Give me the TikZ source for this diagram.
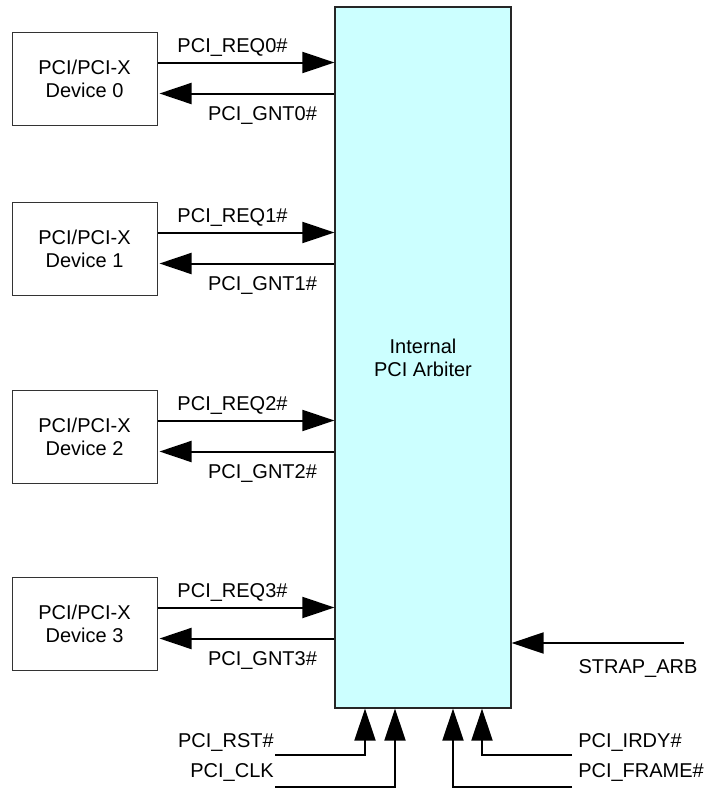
\documentclass[tikz,border=0pt]{standalone}
\usepackage{fontspec}
\setmainfont{Liberation Sans}
\usepackage{xcolor}
\usetikzlibrary{positioning,calc,arrows.meta}

\definecolor{arbfill}{HTML}{CCFFFF}

\begin{document}
\begin{tikzpicture}[x=0.75pt,y=-0.75pt,
		lbl/.style={font=\fontsize{15}{17.25}\selectfont, inner sep=0},
		devbox/.style={draw=black!80, line width=0.75pt, minimum width=108.75pt, minimum height=69.75pt, inner sep=0, align=center, font=\fontsize{15}{17.25}\selectfont},
		arbbox/.style={draw=black!85, fill=arbfill, line width=0.9pt, minimum width=132pt, minimum height=525.75pt, inner sep=0, align=center, font=\fontsize{15}{17.25}\selectfont},
		sig/.style={line width=1.5pt, -{Triangle[length=24pt, width=15.75pt]}}]
					\useasboundingbox (0,0) rectangle (705,789);
					\node[arbbox] (arb) at (423,357.5) {Internal\\PCI Arbiter};
					% devices with request / grant lines
					\foreach \i/\t in {0/32,1/202,2/390,3/577} {
						\node[devbox] (dev\i) at (84.5,\t+46.5) {PCI/PCI-X\\Device \i};
						\coordinate (req\i) at ($(dev\i.north east)+(0,31)$);
						\coordinate (gnt\i) at ($(dev\i.north east)+(0,62)$);
						\draw[sig] (req\i) -- (req\i -| arb.west);
						\draw[sig, shorten >=1.5pt] (gnt\i -| arb.west) -- (gnt\i);
						\node[lbl] (reqlbl\i) at ($(req\i)+(75,-15)$) {PCI\_REQ\i\#};
						\node[lbl] (gntlbl\i) at ($(gnt\i)+(105,22)$) {PCI\_GNT\i\#};
					}
					% strap input
					\coordinate (strap) at (684,643);
					\draw[sig] (strap) -- (strap -| arb.east);
					\node[lbl] (straplbl) at (638,668) {STRAP\_ARB};
					% bottom inputs
					\coordinate (rst) at (275,755);
					\coordinate (clk) at (275,787);
					\coordinate (irdy) at (572,755);
					\coordinate (frame) at (572,787);
					\draw[sig] (rst) -| ($(arb.south)+(-58,0)$);
					\draw[sig] (clk) -| ($(arb.south)+(-28,0)$);
					\draw[sig] (frame) -| ($(arb.south)+(30,0)$);
					\draw[sig] (irdy) -| ($(arb.south)+(59,0)$);
					\node[lbl, anchor=east] (rstlbl) at (274,742) {PCI\_RST\#};
					\node[lbl, anchor=east] (clklbl) at (274,772) {PCI\_CLK};
					\node[lbl, anchor=west] (irdylbl) at (578,742) {PCI\_IRDY\#};
					\node[lbl, anchor=west] (framelbl) at (578,772) {PCI\_FRAME\#};
				\end{tikzpicture}
\end{document}
